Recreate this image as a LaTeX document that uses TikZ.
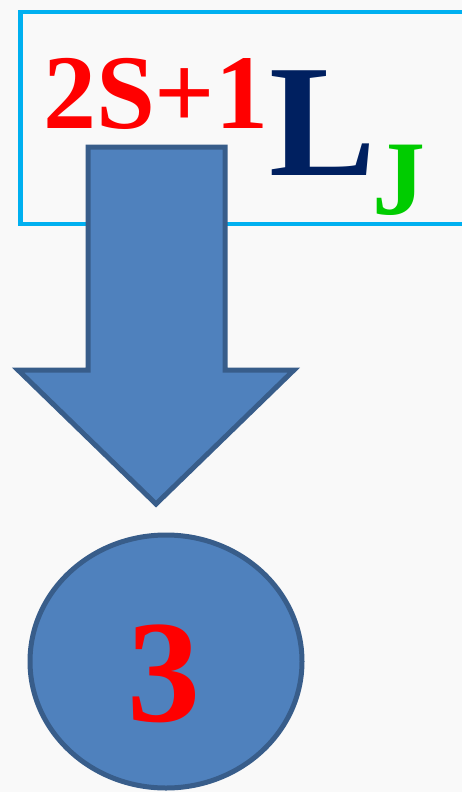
\documentclass[tikz,border=0pt]{standalone}
\usepackage{fontspec}
\setmainfont{Liberation Serif}
\definecolor{bgc}{HTML}{F9F9F9}
\definecolor{boxc}{HTML}{00B0F0}
\definecolor{redc}{HTML}{FF0000}
\definecolor{navyc}{HTML}{002060}
\definecolor{greenc}{HTML}{00CC00}
\definecolor{fillc}{HTML}{4F81BD}
\definecolor{linec}{HTML}{385D8A}
\begin{document}
\begin{tikzpicture}[x=1pt,y=-1pt,
  txt/.style={inner sep=0pt,outer sep=0pt,font=\bfseries},
  shapestyle/.style={fill=fillc,draw=linec,line width=5pt,line join=miter}]
\fill[bgc] (0,0) rectangle (462,792);
\useasboundingbox (0,0) rectangle (462,792);
% frame
\draw[boxc,line width=4.5pt] (470,12) -- (20.5,12) -- (20.5,224) -- (470,224);
% term symbol
\node[txt,text=redc,anchor=base west,font=\bfseries\fontsize{106}{106}\selectfont] (mult) at (43,128) {2S+1};
\node[txt,text=navyc,anchor=base west,font=\bfseries\fontsize{160}{160}\selectfont] (L) at (269,175) {L};
\node[txt,text=greenc,anchor=base west,font=\bfseries\fontsize{106}{106}\selectfont] (J) at (372,214) {J};
% block arrow
\draw[shapestyle] (88,147) -- (225,147) -- (225,370) -- (294,370) -- (156,504) -- (18,370) -- (88,370) -- cycle;
% circle
\draw[shapestyle] (166,661.5) ellipse [x radius=136, y radius=126.5];
\node[txt,text=redc,anchor=base,font=\bfseries\fontsize{146}{146}\selectfont] (three) at (164,721) {3};
\end{tikzpicture}
\end{document}
